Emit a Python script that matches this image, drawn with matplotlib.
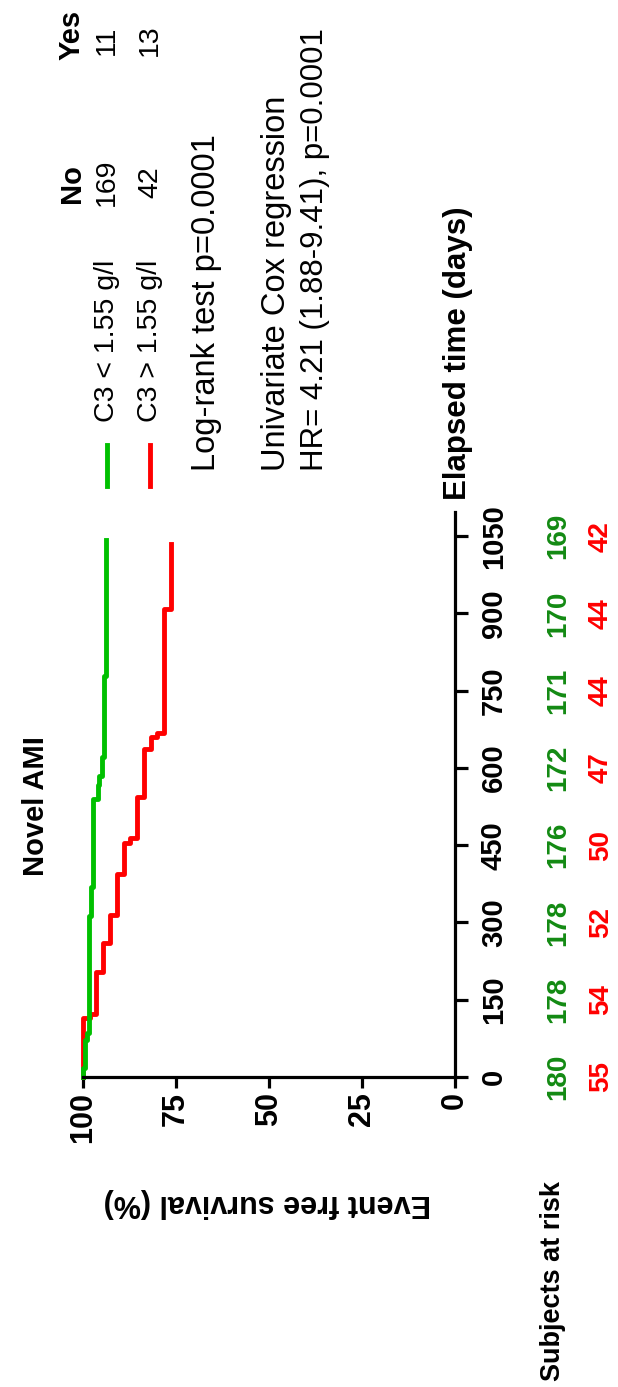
import numpy as np
import matplotlib.pyplot as plt
from matplotlib.lines import Line2D
from matplotlib.transforms import blended_transform_factory

plt.rcParams['font.family'] = ['Liberation Sans', 'DejaVu Sans']

## DATA
# Kaplan-Meier curves: event times (days) and survival (%) after each step
low_times = [18, 71, 86, 313, 369, 540, 566, 585, 622, 778]
low_surv = [99.4, 98.9, 98.3, 97.8, 97.2, 96.1, 95.6, 95.0, 94.4, 93.9]
low_end = 1043

high_times = [115, 123, 203, 261, 315, 395, 454, 465, 544, 637, 660, 668, 908]
high_surv = [98.2, 96.4, 94.5, 92.7, 90.9, 89.1, 87.3, 85.5, 83.6, 81.8, 80.0, 78.2, 76.4]
high_end = 1035

# subjects at risk table
risk_days = [0, 150, 300, 450, 600, 750, 900, 1050]
risk_low = [180, 178, 178, 176, 172, 171, 170, 169]
risk_high = [55, 54, 52, 50, 47, 44, 44, 42]

surv_ticks = [100, 75, 50, 25, 0]

groups = ['C3 < 1.55 g/l', 'C3 > 1.55 g/l']
events_no = [169, 42]
events_yes = [11, 13]

GREEN = '#00c000'
GREEN_TXT = '#138a13'
RED = '#ff0000'

W, H = 618, 1387


def fx(px):
    return px / W


def fy(py):
    return 1 - py / H


def km_steps(times, surv, end):
    # vertical run at each survival level, horizontal jump at each event
    s = np.concatenate([[100], surv])
    t = np.concatenate([[0], times, [end]])
    return np.repeat(s, 2), np.repeat(t, 2)[1:-1]


## FIGURE
# plot is laid out turned on its side: survival runs left->right (100 to 0),
# elapsed time runs bottom->top
fig = plt.figure(figsize=(W / 100, H / 100), dpi=100)
ax = fig.add_axes([fx(83), fy(1077), fx(455) - fx(83), (1077 - 512) / H])
ax.set_xlim(100, 0)
ax.set_ylim(0, 1097)

for side in ['left', 'top']:
    ax.spines[side].set_visible(False)
for side in ['bottom', 'right']:
    ax.spines[side].set_linewidth(2.3)

ax.yaxis.tick_right()
ax.set_xticks(surv_ticks)
ax.set_yticks(risk_days)
ax.tick_params(axis='x', length=8, width=2.3, labelsize=22, pad=3, labelrotation=90)
ax.tick_params(axis='y', length=9, width=2.3, labelsize=21, pad=9, labelrotation=90)
for lbl in ax.get_xticklabels() + ax.get_yticklabels():
    lbl.set_fontweight('bold')
for lbl in ax.get_yticklabels():
    lbl.set_va('center')

x, y = km_steps(high_times, high_surv, high_end)
ax.plot(x, y, color=RED, lw=3.5, clip_on=False)
x, y = km_steps(low_times, low_surv, low_end)
ax.plot(x, y, color=GREEN, lw=3.5, clip_on=False)

# numbers at risk beside the time axis
trans = blended_transform_factory(ax.transAxes, ax.transData)
for d, n_low, n_high in zip(risk_days, risk_low, risk_high):
    ax.text((558 - 83) / 372, d, str(n_low), transform=trans, rotation=90,
            ha='center', va='center', color=GREEN_TXT, fontsize=20, fontweight='bold')
    ax.text((601 - 83) / 372, d, str(n_high), transform=trans, rotation=90,
            ha='center', va='center', color=RED, fontsize=20, fontweight='bold')

## LABELS
fig.text(fx(36), fy(806), 'Novel AMI', rotation=90, ha='center', va='center',
         fontsize=21, fontweight='bold')
fig.text(fx(267), fy(1203), 'Event free survival (%)', rotation=180,
         ha='center', va='center', fontsize=22, fontweight='bold')
fig.text(fx(458), fy(500), 'Elapsed time (days)', rotation=90,
         ha='center', va='bottom', fontsize=22.5, fontweight='bold')
fig.text(fx(553), fy(1281), 'Subjects at risk', rotation=90,
         ha='center', va='center', fontsize=19.5, fontweight='bold')

## LEGEND
fig.text(fx(72), fy(184), 'No', rotation=90, ha='center', va='center',
         fontsize=21, fontweight='bold')
fig.text(fx(72), fy(35), 'Yes', rotation=90, ha='center', va='center',
         fontsize=21, fontweight='bold')
for xc, col, name, no, yes in zip([107, 150], [GREEN, RED], groups, events_no, events_yes):
    fig.add_artist(Line2D([fx(xc), fx(xc)], [fy(445), fy(486)], color=col, lw=3.5))
    fig.text(fx(xc), fy(422), name, rotation=90, ha='center', va='bottom', fontsize=20.5)
    fig.text(fx(xc), fy(182), str(no), rotation=90, ha='center', va='center', fontsize=20.5)
    fig.text(fx(xc), fy(40), str(yes), rotation=90, ha='center', va='center', fontsize=20.5)

fig.text(fx(207), fy(471), 'Log-rank test p=0.0001', rotation=90,
         ha='center', va='bottom', fontsize=23.5)
fig.text(fx(277), fy(471), 'Univariate Cox regression', rotation=90,
         ha='center', va='bottom', fontsize=23.5)
fig.text(fx(315), fy(471), 'HR= 4.21 (1.88-9.41), p=0.0001', rotation=90,
         ha='center', va='bottom', fontsize=22.5)

fig.savefig('out.png', dpi=100, facecolor='white')
